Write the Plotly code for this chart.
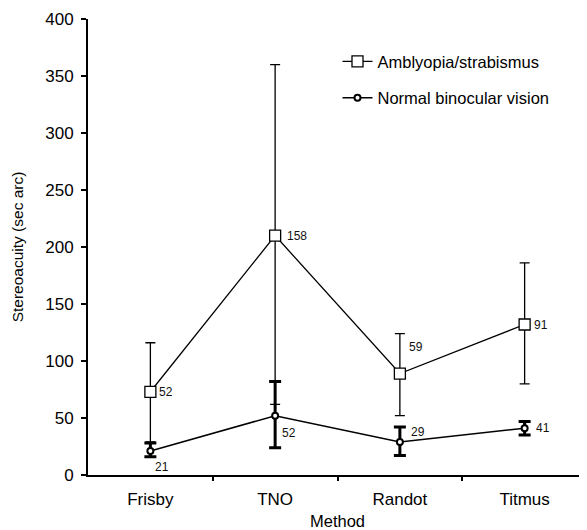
import plotly.graph_objects as go

methods = ["Frisby", "TNO", "Randot", "Titmus"]
amb_mean = [73, 210, 89, 132]
amb_upper = [116, 360, 124, 186]
amb_lower = [29, 62, 52, 80]
amb_labels = [52, 158, 59, 91]
norm_mean = [21, 52, 29, 41]
norm_upper = [28, 82, 42, 47]
norm_lower = [16, 24, 17, 35]
norm_labels = [21, 52, 29, 41]

xs = list(range(len(methods)))
FONT = "Liberation Sans, Arial, sans-serif"

fig = go.Figure()
fig.add_trace(go.Scatter(
    x=xs, y=amb_mean, name="Amblyopia/strabismus", mode="lines+markers",
    legendgroup="a",
    line=dict(color="black", width=1.3),
    marker=dict(symbol="square", size=11, color="white", line=dict(color="black", width=1.3)),
    error_y=dict(type="data", symmetric=False,
                 array=[u - m for u, m in zip(amb_upper, amb_mean)],
                 arrayminus=[m - l for m, l in zip(amb_mean, amb_lower)],
                 color="black", thickness=1.3, width=5),
))
fig.add_trace(go.Scatter(
    x=xs, y=norm_mean, name="Normal binocular vision", mode="lines+markers",
    legendgroup="n",
    line=dict(color="black", width=1.5),
    marker=dict(symbol="circle", size=6, color="white", line=dict(color="black", width=2)),
    error_y=dict(type="data", symmetric=False,
                 array=[u - m for u, m in zip(norm_upper, norm_mean)],
                 arrayminus=[m - l for m, l in zip(norm_mean, norm_lower)],
                 color="black", thickness=3, width=6),
))

amb_offsets = [(16, 0), (22, 0), (16, 27), (16, 0)]
norm_offsets = [(12, -16), (14, -17), (18, 10), (18, 0)]
for i, (lab, (dx, dy)) in enumerate(zip(amb_labels, amb_offsets)):
    fig.add_annotation(x=xs[i], y=amb_mean[i], text=str(lab), showarrow=False,
                       xshift=dx, yshift=dy, font=dict(size=12, color="#111", family=FONT))
for i, (lab, (dx, dy)) in enumerate(zip(norm_labels, norm_offsets)):
    fig.add_annotation(x=xs[i], y=norm_mean[i], text=str(lab), showarrow=False,
                       xshift=dx, yshift=dy, font=dict(size=12, color="#111", family=FONT))

fig.update_layout(
    width=579, height=522,
    margin=dict(l=80, r=0, t=11, b=55),
    paper_bgcolor="white", plot_bgcolor="white",
    font=dict(family=FONT, color="black"),
    showlegend=True,
    legend=dict(x=0.5, y=0.945, xanchor="left", yanchor="top",
                font=dict(size=16.5), tracegroupgap=12,
                bgcolor="rgba(0,0,0,0)", itemwidth=30),
    xaxis=dict(range=[-0.5, 3.5], tickvals=xs, ticktext=methods, ticks="",
               showline=True, linecolor="black", linewidth=2, showgrid=False,
               zeroline=False, tickfont=dict(size=17), ticklabelstandoff=8,
               minor=dict(tickvals=[0.5, 1.5, 2.5, 3.5], ticks="outside", ticklen=4,
                          tickcolor="black", tickwidth=2, showgrid=False),
               title=dict(text="Method", font=dict(size=16.5), standoff=7)),
    yaxis=dict(range=[0, 400], tickvals=list(range(0, 401, 50)), ticks="outside",
               ticklen=5, tickwidth=1.5, tickcolor="black", ticklabelstandoff=4,
               showline=True, linecolor="black", linewidth=2, showgrid=False,
               zeroline=False, tickfont=dict(size=17),
               title=dict(text="Stereoacuity (sec arc)", font=dict(size=15.5), standoff=18)),
)

fig.write_html("out.html")
